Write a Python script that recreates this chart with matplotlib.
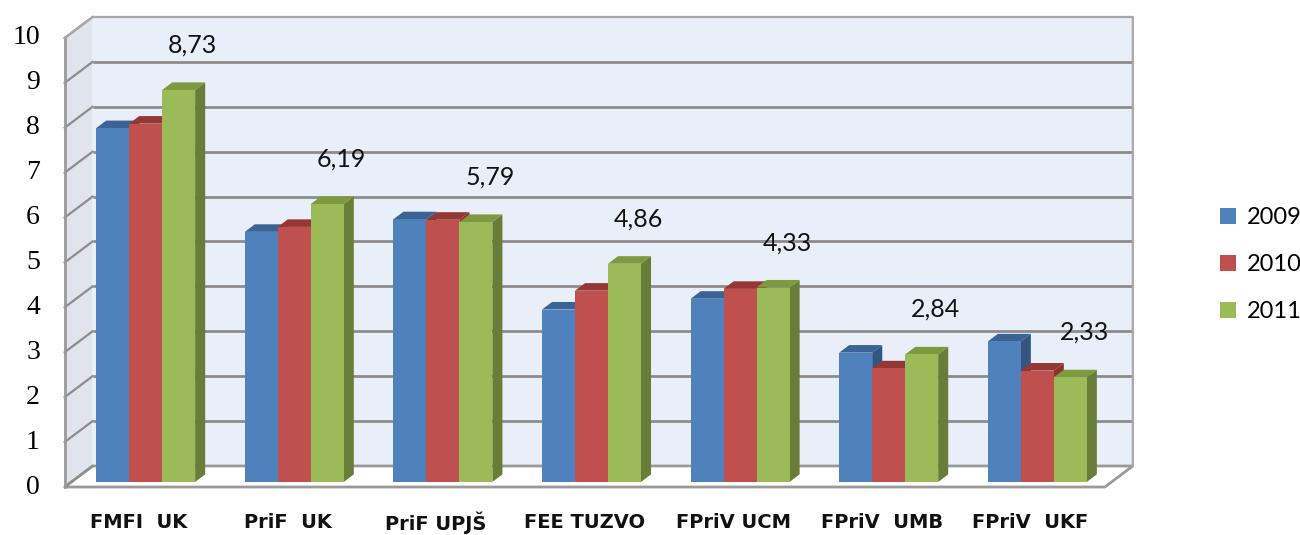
import matplotlib
matplotlib.use("Agg")
import matplotlib.pyplot as plt
from matplotlib.patches import Polygon, Patch
import numpy as np

categories = ["FMFI  UK", "PriF  UK", "PriF UPJŠ", "FEE TUZVO",
              "FPriV UCM", "FPriV  UMB", "FPriV  UKF"]
years = ["2009", "2010", "2011"]
v2009 = [7.88, 5.57, 5.85, 3.84, 4.08, 2.88, 3.13]
v2010 = [7.98, 5.68, 5.84, 4.26, 4.30, 2.53, 2.48]
v2011 = [8.73, 6.19, 5.79, 4.86, 4.33, 2.84, 2.33]
yticks = list(range(0, 11))

# face / top / side colours per series
face = ["#4F81BD", "#C0504D", "#9BBB59"]
top = ["#3A6496", "#953735", "#7D9A40"]
side = ["#34557F", "#8A3431", "#677D38"]

# pseudo-3D geometry (data units: x = category, y = value)
DX, DY = 0.188, 0.468   # depth offset of the back wall
D0, DD = 0.24, 0.36     # bar start depth and bar depth (fractions)
W = 0.222               # bar width
x0, x1 = -0.5, len(categories) - 0.5
ymax = 10

fig = plt.figure(figsize=(13, 5.35), dpi=100)
ax = fig.add_axes([0, 0, 1, 1])
ax.set_xlim(-0.935, 7.813)
ax.set_ylim(-1.069, 10.846)
ax.axis("off")

edge = "#9A9A9A"
grid = "#8C8C8C"

# walls and floor
ax.add_patch(Polygon([(x0 + DX, DY), (x1 + DX, DY), (x1 + DX, ymax + DY), (x0 + DX, ymax + DY)],
                     closed=True, fc="#E9EFF9", ec="none", zorder=0))
ax.add_patch(Polygon([(x0, 0), (x0 + DX, DY), (x0 + DX, ymax + DY), (x0, ymax)],
                     closed=True, fc="#DFE4ED", ec="none", zorder=0))
ax.add_patch(Polygon([(x0, 0), (x1, 0), (x1 + DX, DY), (x0 + DX, DY)],
                     closed=True, fc="white", ec=edge, lw=2, zorder=1))

for v in yticks:
    if 0 < v < ymax:
        ax.plot([x0 + DX, x1 + DX], [v + DY, v + DY], color=grid, lw=2, zorder=1,
                solid_capstyle="butt")
    ax.plot([x0, x0 + DX], [v, v + DY], color=grid, lw=1.6, zorder=1)
    ax.text(-0.666, v, str(v), ha="right", va="center", fontsize=20,
            family="Liberation Serif", color="black")

# outline of the box
ax.plot([x0, x0], [0, ymax], color=edge, lw=2, zorder=1)
ax.plot([x0, x0 + DX, x1 + DX, x1 + DX], [ymax, ymax + DY, ymax + DY, DY],
        color="#A8A8A8", lw=1.6, zorder=1)

# bars: front via ax.bar, top/side faces as polygons
series = [v2009, v2010, v2011]
x = np.arange(len(categories))
base = D0 * DY
for i in range(len(categories)):
    for k, vals in enumerate(series):
        left = x[i] + (k - 1.5) * W + D0 * DX
        right = left + W
        h = vals[i]
        zo = 3 + i * 3 + k
        ax.add_patch(Polygon([(right, base), (right, base + h),
                              (right + DD * DX, base + h + DD * DY),
                              (right + DD * DX, base + DD * DY)],
                             closed=True, fc=side[k], ec="none", zorder=zo))
        ax.add_patch(Polygon([(left, base + h), (right, base + h),
                              (right + DD * DX, base + h + DD * DY),
                              (left + DD * DX, base + h + DD * DY)],
                             closed=True, fc=top[k], ec="none", zorder=zo))
        ax.bar(left, h, width=W, bottom=base, align="edge", color=face[k],
               edgecolor="none", zorder=zo + 0.5)

# data labels for 2011
for i, v in enumerate(v2011):
    xc = x[i] + 1.0 * W + D0 * DX + 0.5 * DX
    ax.text(xc, base + v + 1.0, f"{v:.2f}".replace(".", ","), ha="center", va="center",
            fontsize=18, family="Lato", color="#111111", zorder=40)

# category labels
for i, c in enumerate(categories):
    ax.text(x[i], -0.8, c, ha="center", va="center", fontsize=14, fontweight="bold",
            family=["DejaVu Sans Condensed", "DejaVu Sans"], color="#111111")

handles = [Patch(fc=face[k], ec="none") for k in range(3)]
ax.legend(handles, years, loc="center left", bbox_to_anchor=(0.922, 0.505),
          frameon=False, prop={"family": "Lato", "size": 17},
          handlelength=0.7, handleheight=0.7, handletextpad=0.45, labelspacing=1.1)

fig.savefig("out.png", dpi=100)
